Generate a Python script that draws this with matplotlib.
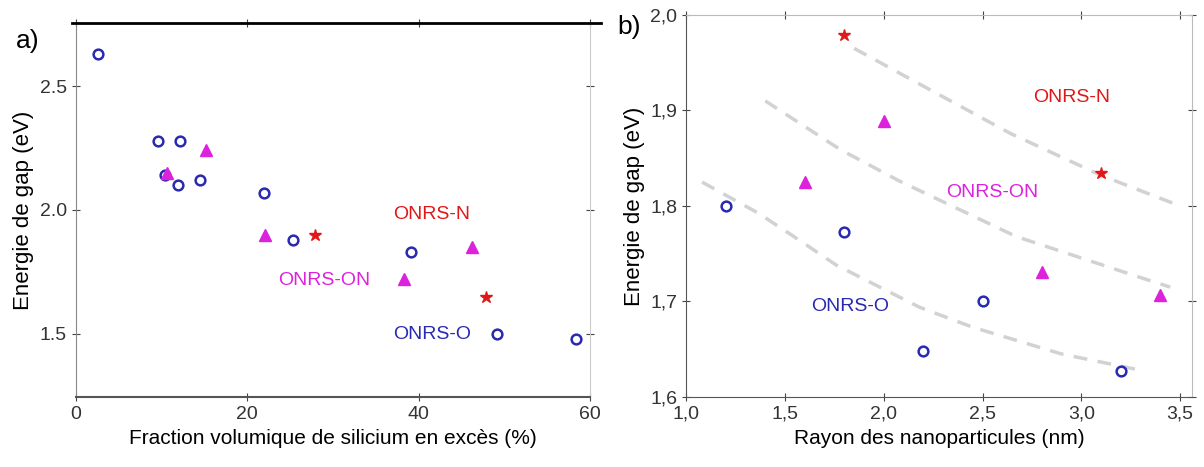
import matplotlib.pyplot as plt
from matplotlib.lines import Line2D

plt.rcParams['font.family'] = ['Liberation Sans', 'DejaVu Sans']

# panel a) : gap vs excess silicon fraction
a_o_x = [2.6, 9.6, 12.1, 10.4, 11.9, 14.5, 21.9, 25.3, 39.1, 49.2, 58.4]
a_o_y = [2.63, 2.28, 2.28, 2.14, 2.10, 2.12, 2.07, 1.88, 1.83, 1.50, 1.48]
a_on_x = [15.2, 10.6, 22.1, 38.3, 46.2]
a_on_y = [2.24, 2.15, 1.90, 1.72, 1.85]
a_n_x = [27.9, 47.9]
a_n_y = [1.90, 1.65]

# panel b) : gap vs nanoparticle radius
b_o_x = [1.2, 1.8, 2.2, 2.5, 3.2]
b_o_y = [1.80, 1.773, 1.648, 1.70, 1.627]
b_on_x = [1.6, 2.0, 2.8, 3.4]
b_on_y = [1.825, 1.889, 1.731, 1.707]
b_n_x = [1.8, 3.1]
b_n_y = [1.979, 1.834]

# guide curves
fit_n_x = [1.85, 2.08, 2.64, 3.1, 3.5]
fit_n_y = [1.965, 1.939, 1.876, 1.832, 1.80]
fit_on_x = [1.4, 1.78, 2.08, 2.67, 3.3, 3.45]
fit_on_y = [1.91, 1.859, 1.826, 1.768, 1.725, 1.715]
fit_o_x = [1.08, 1.36, 1.53, 1.76, 2.18, 2.45, 2.9, 3.3]
fit_o_y = [1.825, 1.793, 1.770, 1.738, 1.694, 1.673, 1.645, 1.628]

c_o = '#2a2ab0'
c_on = '#dd22dd'
c_n = '#e01818'

fig = plt.figure(figsize=(12.04, 4.67), dpi=100)
ax1 = fig.add_axes([0.063, 0.150, 0.427, 0.801])
ax2 = fig.add_axes([0.570, 0.150, 0.420, 0.818])

# a)
ax1.plot(a_o_x, a_o_y, 'o', mfc='none', mec=c_o, mew=1.8, ms=7)
ax1.plot(a_on_x, a_on_y, '^', color=c_on, ms=8)
ax1.plot(a_n_x, a_n_y, '*', color=c_n, ms=9)
ax1.text(41.5, 1.98, 'ONRS-N', color=c_n, fontsize=14, ha='center', va='center')
ax1.text(29.0, 1.715, 'ONRS-ON', color=c_on, fontsize=14, ha='center', va='center')
ax1.text(41.6, 1.497, 'ONRS-O', color=c_o, fontsize=14, ha='center', va='center')
ax1.set_xlim(0, 60)
ax1.set_ylim(1.245, 2.755)
ax1.set_xticks([0, 20, 40, 60])
ax1.set_yticks([1.5, 2.0, 2.5])
ax1.set_xlabel('Fraction volumique de silicium en excès (%)', fontsize=15)
ax1.set_ylabel('Energie de gap (eV)', fontsize=16)
ax1.spines['top'].set_visible(False)
ax1.spines['right'].set_color('#cccccc')
ax1.spines['left'].set_color('#888888')
ax1.spines['bottom'].set_color('#555555')
ax1.spines['bottom'].set_linewidth(1.5)
# thick black frame line on top, running past the axes
fig.add_artist(Line2D([0.060, 0.499], [0.951, 0.951], color='black', lw=2))

# b)
for fx, fy in [(fit_n_x, fit_n_y), (fit_on_x, fit_on_y), (fit_o_x, fit_o_y)]:
    ax2.plot(fx, fy, color='#d2d2d2', lw=2.5, ls=(0, (4, 3)))
ax2.plot(b_o_x, b_o_y, 'o', mfc='none', mec=c_o, mew=1.8, ms=7)
ax2.plot(b_on_x, b_on_y, '^', color=c_on, ms=8)
ax2.plot(b_n_x, b_n_y, '*', color=c_n, ms=9)
ax2.text(2.95, 1.914, 'ONRS-N', color=c_n, fontsize=14, ha='center', va='center')
ax2.text(2.55, 1.814, 'ONRS-ON', color=c_on, fontsize=14, ha='center', va='center')
ax2.text(1.83, 1.695, 'ONRS-O', color=c_o, fontsize=14, ha='center', va='center')
ax2.set_xlim(1.0, 3.56)
ax2.set_ylim(1.6, 2.0)
ax2.set_xticks([1.0, 1.5, 2.0, 2.5, 3.0, 3.5])
ax2.set_xticklabels(['1,0', '1,5', '2,0', '2,5', '3,0', '3,5'])
ax2.set_yticks([1.6, 1.7, 1.8, 1.9, 2.0])
ax2.set_yticklabels(['1,6', '1,7', '1,8', '1,9', '2,0'])
ax2.set_xlabel('Rayon des nanoparticules (nm)', fontsize=15)
ax2.set_ylabel('Energie de gap (eV)', fontsize=16)
ax2.spines['top'].set_color('#bbbbbb')
ax2.spines['right'].set_color('#bbbbbb')
ax2.spines['left'].set_color('#555555')
ax2.spines['bottom'].set_color('#555555')

for ax in (ax1, ax2):
    ax.tick_params(labelsize=14, direction='inout', length=6, top=True, right=True,
                   colors='#444444', labelcolor='#333333')

fig.text(0.013, 0.897, 'a)', fontsize=19)
fig.text(0.513, 0.928, 'b)', fontsize=19)

plt.savefig('out.png')
